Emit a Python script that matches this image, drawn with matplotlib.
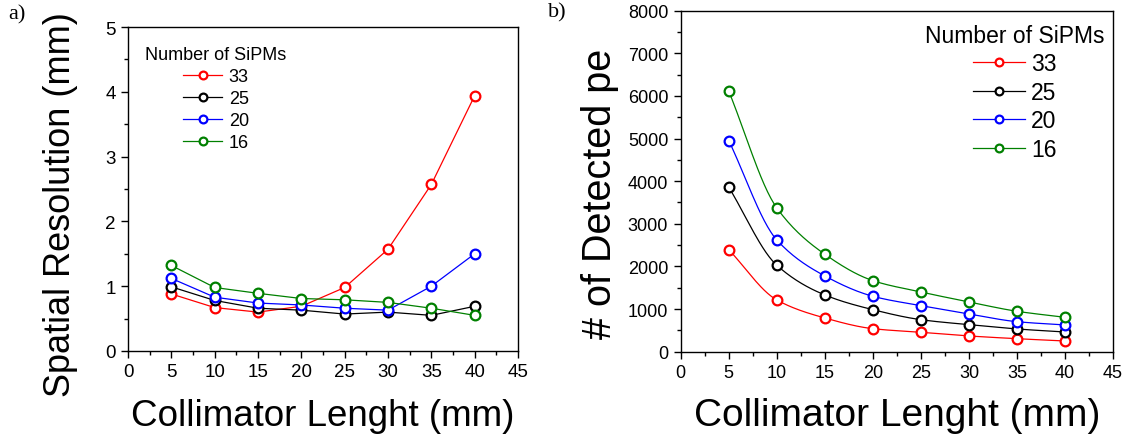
import numpy as np
import matplotlib
matplotlib.use("Agg")
from matplotlib import pyplot as plt
from matplotlib.ticker import MultipleLocator

plt.rcParams['font.family'] = ['Liberation Sans', 'DejaVu Sans']

# --- data ---
length_mm = [5, 10, 15, 20, 25, 30, 35, 40]
sipm_labels = ["33", "25", "20", "16"]
colors = ["#ff0000", "#000000", "#0000ff", "#008000"]

# spatial resolution (mm)
res_33 = [0.88, 0.67, 0.60, 0.69, 0.98, 1.57, 2.57, 3.94]
res_25 = [0.99, 0.78, 0.66, 0.63, 0.57, 0.60, 0.55, 0.69]
res_20 = [1.12, 0.83, 0.74, 0.71, 0.66, 0.63, 1.00, 1.50]
res_16 = [1.32, 0.98, 0.89, 0.81, 0.79, 0.75, 0.66, 0.55]

# detected photoelectrons
pe_33 = [2394, 1214, 791, 540, 455, 369, 305, 251]
pe_25 = [3859, 2028, 1331, 986, 751, 634, 533, 462]
pe_20 = [4953, 2622, 1777, 1300, 1080, 885, 704, 627]
pe_16 = [6112, 3373, 2286, 1667, 1401, 1167, 948, 807]


def smooth_line(x, y, n=200):
    # monotone cubic hermite (only used to draw the connecting curve)
    x = np.asarray(x, float)
    y = np.asarray(y, float)
    h = np.diff(x)
    d = np.diff(y) / h
    m = np.zeros_like(y)
    m[0], m[-1] = d[0], d[-1]
    for i in range(1, len(x) - 1):
        if d[i - 1] * d[i] <= 0:
            m[i] = 0
        else:
            w1 = 2 * h[i] + h[i - 1]
            w2 = h[i] + 2 * h[i - 1]
            m[i] = (w1 + w2) / (w1 / d[i - 1] + w2 / d[i])
    xs = np.linspace(x[0], x[-1], n)
    k = np.clip(np.searchsorted(x, xs) - 1, 0, len(x) - 2)
    t = (xs - x[k]) / h[k]
    h00 = 2 * t**3 - 3 * t**2 + 1
    h10 = t**3 - 2 * t**2 + t
    h01 = -2 * t**3 + 3 * t**2
    h11 = t**3 - t**2
    ys = h00 * y[k] + h10 * h[k] * m[k] + h01 * y[k + 1] + h11 * h[k] * m[k + 1]
    return xs, ys


def style_axes(ax, tick_size):
    for s in ax.spines.values():
        s.set_linewidth(1.0)
    ax.tick_params(which='both', direction='out', top=False, right=False,
                   labelsize=tick_size, width=1.0)
    ax.tick_params(which='major', length=5, pad=4)
    ax.tick_params(which='minor', length=3)
    ax.xaxis.set_major_locator(MultipleLocator(5))
    ax.xaxis.set_minor_locator(MultipleLocator(2.5))
    ax.set_xlim(0, 45)


fig = plt.figure(figsize=(11.3, 4.39), dpi=100)

# --- a) spatial resolution ---
ax1 = fig.add_axes([0.1133, 0.1982, 0.3451, 0.7380])
for vals, lab, c in zip([res_33, res_25, res_20, res_16], sipm_labels, colors):
    ax1.plot(length_mm, vals, color=c, lw=0.9, marker='o', ms=7,
             mfc='white', mec=c, mew=1.6, label=lab)
style_axes(ax1, 13.5)
ax1.set_ylim(0, 5)
ax1.yaxis.set_major_locator(MultipleLocator(1))
ax1.yaxis.set_minor_locator(MultipleLocator(0.5))
ax1.set_xlabel("Collimator Lenght (mm)", fontsize=26.5, va='baseline')
ax1.xaxis.set_label_coords(0.5, -0.228)
ax1.set_ylabel("Spatial Resolution (mm)", fontsize=26, va='center')
ax1.yaxis.set_label_coords(-0.174, 0.454)
leg1 = ax1.legend(title="Number of SiPMs", loc='upper left',
                  bbox_to_anchor=(0.044, 0.94), frameon=False,
                  fontsize=13, title_fontsize=13, borderpad=0,
                  borderaxespad=0, handlelength=2.2, handletextpad=0.35,
                  labelspacing=0.27, markerscale=0.8)

# --- b) detected pe ---
ax2 = fig.add_axes([0.6024, 0.1966, 0.3826, 0.7768])
for vals, lab, c in zip([pe_33, pe_25, pe_20, pe_16], sipm_labels, colors):
    xs, ys = smooth_line(length_mm, vals)
    ax2.plot(xs, ys, color=c, lw=0.9)
    ax2.plot(length_mm, vals, ls='none', marker='o', ms=7,
             mfc='white', mec=c, mew=1.6)
    ax2.plot([], [], color=c, lw=0.9, marker='o', ms=7, mfc='white',
             mec=c, mew=1.6, label=lab)
style_axes(ax2, 13)
ax2.set_ylim(0, 8000)
ax2.yaxis.set_major_locator(MultipleLocator(1000))
ax2.yaxis.set_minor_locator(MultipleLocator(500))
ax2.set_xlabel("Collimator Lenght (mm)", fontsize=28, va='baseline')
ax2.xaxis.set_label_coords(0.5, -0.215)
ax2.set_ylabel("# of Detected pe", fontsize=28.5, va='center')
ax2.yaxis.set_label_coords(-0.187, 0.467)
leg2 = ax2.legend(title="Number of SiPMs", loc='upper left',
                  bbox_to_anchor=(0.565, 0.961), frameon=False,
                  fontsize=16.5, title_fontsize=16.5, borderpad=0,
                  borderaxespad=0, handlelength=2.3, handletextpad=0.25,
                  labelspacing=0.24, markerscale=0.8)

fig.text(8 / 1130, 1 - 5 / 439, "a)", family=['Liberation Serif'],
         fontsize=16, va='top', ha='left')
fig.text(548 / 1130, 1 - 3 / 439, "b)", family=['Liberation Serif'],
         fontsize=16, va='top', ha='left')

fig.savefig("out.png", dpi=100)
